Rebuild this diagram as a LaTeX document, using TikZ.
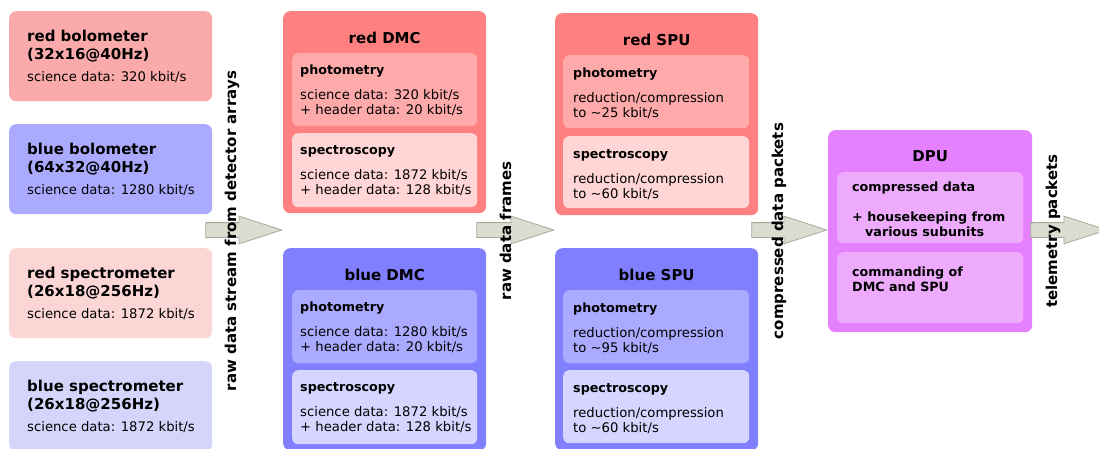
\documentclass[tikz,border=0pt]{standalone}
\usepackage{fontspec}
\setmainfont{DejaVu Sans}
\usepackage{tikz}
\usetikzlibrary{positioning,shapes.arrows}

\definecolor{redbolo}{HTML}{FAAAAA}
\definecolor{bluebolo}{HTML}{AAAAFF}
\definecolor{redspec}{HTML}{FCD5D5}
\definecolor{bluespec}{HTML}{D5D5FC}
\definecolor{redunit}{HTML}{FF8080}
\definecolor{redphot}{HTML}{FFAAAA}
\definecolor{redsp}{HTML}{FFD5D5}
\definecolor{blueunit}{HTML}{8080FF}
\definecolor{bluephot}{HTML}{AAAAFF}
\definecolor{bluesp}{HTML}{D5D5FF}
\definecolor{dpuunit}{HTML}{E580FF}
\definecolor{dpuin}{HTML}{EEABFD}
\definecolor{flowfill}{HTML}{DCDCD0}
\definecolor{flowedge}{HTML}{A8A89C}

\newcommand{\titlefont}{\fontsize{15}{18}\selectfont\bfseries}
\newcommand{\headfont}{\fontsize{12.7}{15}\selectfont\bfseries}
\newcommand{\tstrut}{\rule{0pt}{12pt}}
\newcommand{\hstrut}{\rule{0pt}{11pt}}

\begin{document}
\begin{tikzpicture}[x=1pt, y=-1pt,
	card/.style={anchor=north west, inner sep=0pt, rounded corners=7pt, minimum width=203pt, minimum height=90pt},
	unit/.style={anchor=north west, inner sep=0pt, rounded corners=7pt, minimum width=203pt, minimum height=202pt},
	sub/.style={anchor=north west, inner sep=0pt, rounded corners=6pt, minimum width=185pt},
	txt/.style={inner sep=0pt, align=left, font=\fontsize{13.2}{15}\selectfont},
	ttl/.style={inner sep=0pt, font=\titlefont},
	vlabel/.style={rotate=90, anchor=base, inner sep=0pt, font=\titlefont},
	flow/.style={single arrow, anchor=tip, fill=flowfill, draw=flowedge, line width=0.8pt, inner xsep=0pt, inner ysep=7pt, minimum width=0pt, single arrow head extend=6.5pt, single arrow tip angle=36}]

	\useasboundingbox (0,0) rectangle (1099,448);
	\coordinate (axis) at (0,230);

	\node[card, fill=redbolo] (redBolo) at (9,11) {};
	\node[txt, below right=18pt and 18pt of redBolo.north west] (redBoloTxt) {\tstrut{\titlefont red bolometer}\\[3pt]{\titlefont (32x16@40Hz)}\\[7pt]science data: 320 kbit/s};
	\node[card, fill=bluebolo] (blueBolo) at (9,124) {};
	\node[txt, below right=18pt and 18pt of blueBolo.north west] (blueBoloTxt) {\tstrut{\titlefont blue bolometer}\\[3pt]{\titlefont (64x32@40Hz)}\\[7pt]science data: 1280 kbit/s};
	\node[card, fill=redspec] (redSpec) at (9,248) {};
	\node[txt, below right=18pt and 18pt of redSpec.north west] (redSpecTxt) {\tstrut{\titlefont red spectrometer}\\[3pt]{\titlefont (26x18@256Hz)}\\[7pt]science data: 1872 kbit/s};
	\node[card, fill=bluespec] (blueSpec) at (9,361) {};
	\node[txt, below right=18pt and 18pt of blueSpec.north west] (blueSpecTxt) {\tstrut{\titlefont blue spectrometer}\\[3pt]{\titlefont (26x18@256Hz)}\\[7pt]science data: 1872 kbit/s};

	\node[unit, fill=redunit] (redDMC) at (283,11) {};
	\node[ttl, below=20pt of redDMC.north] (redDMCttl) {\tstrut red DMC};
	\node[sub, fill=redphot, minimum height=73pt, below right=42pt and 9pt of redDMC.north west] (redDMCphot) {};
	\node[txt, below right=10pt and 8pt of redDMCphot.north west] (redDMCphotTxt) {\hstrut{\headfont photometry}\\[10pt]science data: 320 kbit/s\\+ header data: 20 kbit/s};
	\node[sub, fill=redsp, minimum height=74pt, below right=122pt and 9pt of redDMC.north west] (redDMCspec) {};
	\node[txt, below right=10pt and 8pt of redDMCspec.north west] (redDMCspecTxt) {\hstrut{\headfont spectroscopy}\\[10pt]science data: 1872 kbit/s\\+ header data: 128 kbit/s};

	\node[unit, fill=blueunit] (blueDMC) at (283,248) {};
	\node[ttl, below=20pt of blueDMC.north] (blueDMCttl) {\tstrut blue DMC};
	\node[sub, fill=bluephot, minimum height=73pt, below right=42pt and 9pt of blueDMC.north west] (blueDMCphot) {};
	\node[txt, below right=10pt and 8pt of blueDMCphot.north west] (blueDMCphotTxt) {\hstrut{\headfont photometry}\\[10pt]science data: 1280 kbit/s\\+ header data: 20 kbit/s};
	\node[sub, fill=bluesp, minimum height=74pt, below right=122pt and 9pt of blueDMC.north west] (blueDMCspec) {};
	\node[txt, below right=10pt and 8pt of blueDMCspec.north west] (blueDMCspecTxt) {\hstrut{\headfont spectroscopy}\\[10pt]science data: 1872 kbit/s\\+ header data: 128 kbit/s};

	\node[unit, fill=redunit] (redSPU) at (555,13) {};
	\node[ttl, below=20pt of redSPU.north] (redSPUttl) {\tstrut red SPU};
	\node[sub, fill=redphot, minimum width=186pt, minimum height=73pt, below right=42pt and 8pt of redSPU.north west] (redSPUphot) {};
	\node[txt, below right=11pt and 10pt of redSPUphot.north west] (redSPUphotTxt) {\hstrut{\headfont photometry}\\[10pt]reduction/compression\\to \textasciitilde25 kbit/s};
	\node[sub, fill=redsp, minimum width=186pt, minimum height=72pt, below right=123pt and 8pt of redSPU.north west] (redSPUspec) {};
	\node[txt, below right=11pt and 10pt of redSPUspec.north west] (redSPUspecTxt) {\hstrut{\headfont spectroscopy}\\[10pt]reduction/compression\\to \textasciitilde60 kbit/s};

	\node[unit, fill=blueunit] (blueSPU) at (555,248) {};
	\node[ttl, below=20pt of blueSPU.north] (blueSPUttl) {\tstrut blue SPU};
	\node[sub, fill=bluephot, minimum width=186pt, minimum height=73pt, below right=42pt and 8pt of blueSPU.north west] (blueSPUphot) {};
	\node[txt, below right=11pt and 10pt of blueSPUphot.north west] (blueSPUphotTxt) {\hstrut{\headfont photometry}\\[10pt]reduction/compression\\to \textasciitilde95 kbit/s};
	\node[sub, fill=bluesp, minimum width=186pt, minimum height=73pt, below right=122pt and 8pt of blueSPU.north west] (blueSPUspec) {};
	\node[txt, below right=11pt and 10pt of blueSPUspec.north west] (blueSPUspecTxt) {\hstrut{\headfont spectroscopy}\\[10pt]reduction/compression\\to \textasciitilde60 kbit/s};

	\node[unit, fill=dpuunit, minimum width=204pt] (dpu) at (828,130) {};
	\node[ttl, below=19pt of dpu.north] (dputtl) {\tstrut DPU};
	\node[sub, fill=dpuin, minimum width=186pt, minimum height=71pt, below right=42pt and 9pt of dpu.north west] (dpuData) {};
	\node[txt, font=\headfont, below right=8pt and 15pt of dpuData.north west] (dpuDataTxt) {\hstrut compressed data\\[15pt]+ housekeeping from\\\hspace{13pt}various subunits};
	\node[sub, fill=dpuin, minimum width=186pt, minimum height=71pt, below right=122pt and 9pt of dpu.north west] (dpuCmd) {};
	\node[txt, font=\headfont, below right=13pt and 15pt of dpuCmd.north west] (dpuCmdTxt) {\hstrut commanding of\\DMC and SPU};

	\coordinate (exit) at (1108,230);
	\node[flow, minimum height=76pt] (flowRaw) at (redDMC.west |- axis) {};
	\node[flow, minimum height=77pt] (flowFrames) at (redSPU.west |- axis) {};
	\node[flow, minimum height=75pt] (flowPackets) at (dpu.west |- axis) {};
	\node[flow, minimum height=76pt] (flowTm) at (exit) {};

	\node[vlabel] (lblRaw) at (236,231) {raw data stream from detector arrays};
	\node[vlabel] (lblFrames) at (511,231) {raw data frames};
	\node[vlabel] (lblPackets) at (783,231) {compressed data packets};
	\node[vlabel] (lblTm) at (1057,231) {telemetry packets};
\end{tikzpicture}
\end{document}
